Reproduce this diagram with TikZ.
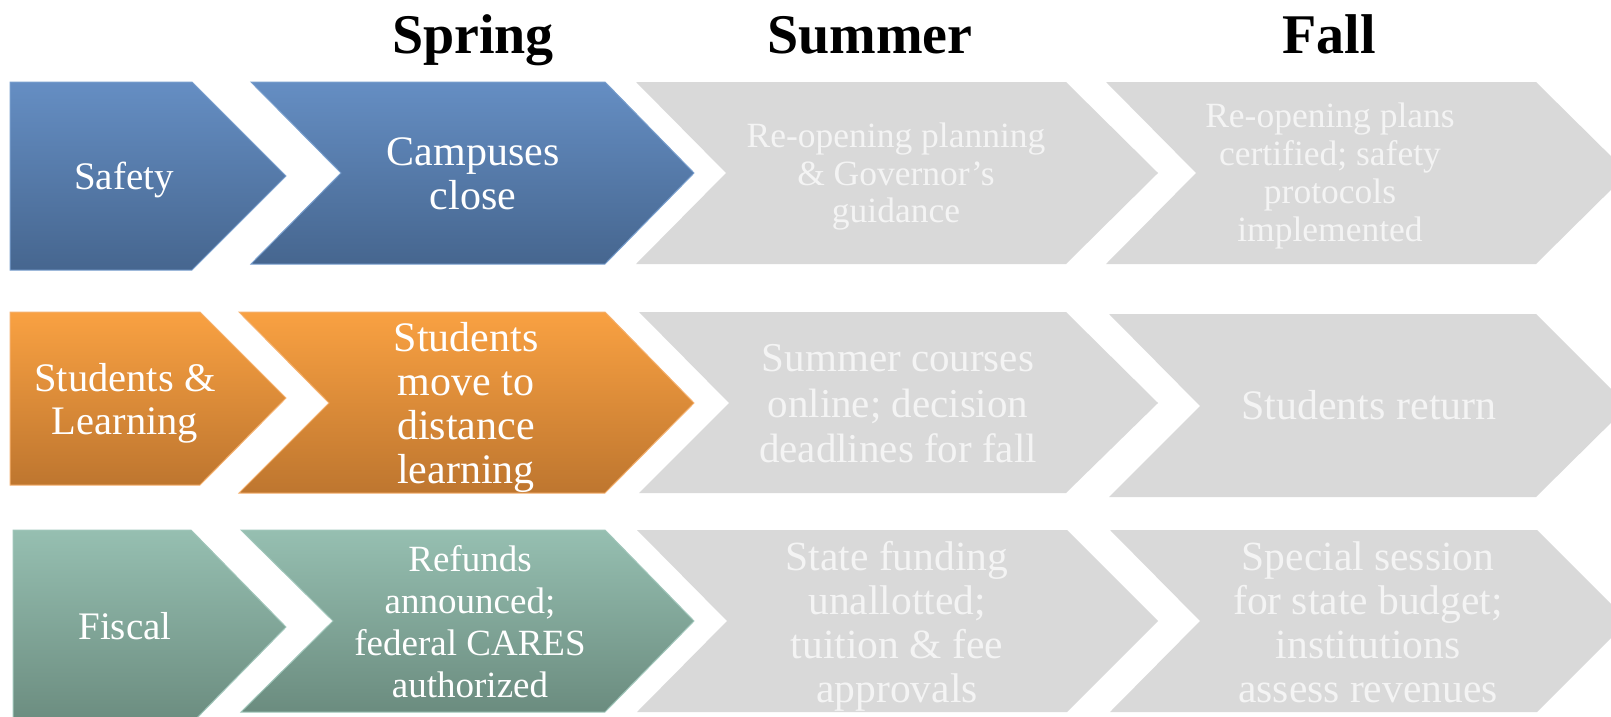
\documentclass[tikz,border=0pt]{standalone}
\usepackage{fontspec}
\setmainfont{Liberation Serif}
\definecolor{bluetop}{RGB}{101,142,195}
\definecolor{bluebot}{RGB}{70,102,143}
\definecolor{blueedge}{RGB}{120,158,205}
\definecolor{orgtop}{RGB}{249,161,66}
\definecolor{orgbot}{RGB}{190,118,47}
\definecolor{orgedge}{RGB}{244,176,110}
\definecolor{grntop}{RGB}{150,191,177}
\definecolor{grnbot}{RGB}{107,140,127}
\definecolor{grnedge}{RGB}{160,198,186}
\definecolor{chevgray}{RGB}{217,217,217}
\definecolor{faint}{RGB}{244,244,244}
\tikzset{
  fs/.style 2 args={font=\fontsize{#1}{#2}\selectfont},
  blueshape/.style={top color=bluetop, bottom color=bluebot, draw=blueedge, line width=1pt},
  orgshape/.style={top color=orgtop, bottom color=orgbot, draw=orgedge, line width=1pt},
  grnshape/.style={top color=grntop, bottom color=grnbot, draw=grnedge, line width=1pt},
  grayshape/.style={fill=chevgray},
  whitetxt/.style={text=white, align=center, inner sep=0pt},
  graytxt/.style={text=faint, align=center, inner sep=0pt},
  head/.style={font=\fontsize{56}{60}\selectfont\bfseries, text=black, inner sep=0pt, anchor=base}
}
\begin{document}
\begin{tikzpicture}[x=1pt,y=-1pt]
\useasboundingbox (0,0) rectangle (1611,717);
\clip (0,0) rectangle (1611,717);

% headers
\node[head] (spring) at (473,53) {Spring};
\node[head] (summer) at (870,53) {Summer};
\node[head] (fall) at (1329,53) {Fall};

% row 1
\path[blueshape] (10,82) -- (192,82) -- (286,176) -- (192,270) -- (10,270) -- cycle;
\path[blueshape] (251,82) -- (605,82) -- (694,173) -- (605,264) -- (251,264) -- (341,173) -- cycle;
\path[grayshape] (636,82) -- (1066,82) -- (1158,173) -- (1066,264) -- (636,264) -- (726,173) -- cycle;
\path[grayshape] (1106,82) -- (1536,82) -- (1628,173) -- (1536,264) -- (1106,264) -- (1196,173) -- cycle;

% row 2
\path[orgshape] (10,312) -- (200,312) -- (286,398) -- (200,485) -- (10,485) -- cycle;
\path[orgshape] (239,312) -- (605,312) -- (694,403) -- (605,493) -- (239,493) -- (329,403) -- cycle;
\path[grayshape] (639,312) -- (1066,312) -- (1158,403) -- (1066,493) -- (639,493) -- (729,403) -- cycle;
\path[grayshape] (1109,314) -- (1536,314) -- (1628,406) -- (1536,497) -- (1109,497) -- (1200,406) -- cycle;

% row 3
\path[grnshape] (13,530) -- (191,530) -- (286,627) -- (191,724) -- (13,724) -- cycle;
\path[grnshape] (241,530) -- (605,530) -- (694,621) -- (605,712) -- (241,712) -- (333,621) -- cycle;
\path[grayshape] (637,530) -- (1067,530) -- (1158,621) -- (1067,712) -- (637,712) -- (727,621) -- cycle;
\path[grayshape] (1110,530) -- (1537,530) -- (1628,621) -- (1537,712) -- (1110,712) -- (1200,621) -- cycle;

% texts row 1
\node[whitetxt, fs={39}{44}] (safety) at (124,180) {Safety};
\node[whitetxt, fs={42}{44}] (campus) at (473,174) {Campuses\\close};
\node[graytxt, fs={35.5}{37.5}] (reopen) at (896,177) {Re-opening planning\\\& Governor’s\\guidance};
\node[graytxt, fs={35.5}{38}] (certified) at (1330,176) {Re-opening plans\\certified; safety\\protocols\\implemented};

% texts row 2
\node[whitetxt, fs={40.5}{43}] (studlearn) at (125,403) {Students \&\\Learning};
\node[whitetxt, fs={42}{44}] (distance) at (466,407) {Students\\move to\\distance\\learning};
\node[graytxt, fs={41}{45.5}] (courses) at (898,404) {Summer courses\\online; decision\\deadlines for fall};
\node[graytxt, fs={42}{43}] (return) at (1369,405) {Students return};

% texts row 3
\node[whitetxt, fs={39}{44}] (fiscal) at (125,626) {Fiscal};
\node[whitetxt, fs={37}{42}] (refunds) at (470,622) {Refunds\\announced;\\federal CARES\\authorized};
\node[graytxt, fs={41.5}{44}] (funding) at (897,626) {State funding\\unallotted;\\tuition \& fee\\approvals};
\node[graytxt, fs={41.5}{44}] (session) at (1368,622) {Special session\\for state budget;\\institutions\\assess revenues};
\end{tikzpicture}
\end{document}
